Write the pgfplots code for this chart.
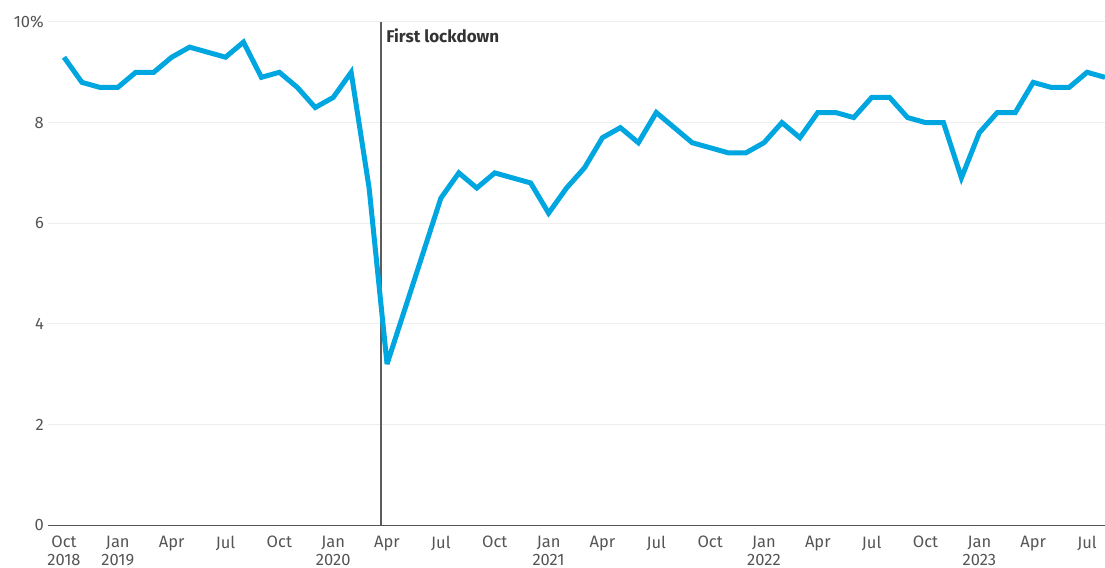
\documentclass[border=0pt]{standalone}
\usepackage{fontspec}
\setmainfont{Fira Sans}
\usepackage{pgfplots}
\pgfplotsset{compat=1.18}
\definecolor{lineblue}{HTML}{00A6E0}
\definecolor{labgray}{HTML}{555555}
\definecolor{gridgray}{HTML}{EEEEEE}
\definecolor{darkgray}{HTML}{333333}
\begin{document}
\begin{tikzpicture}
\begin{axis}[
  scale only axis,
  width=1057bp, height=503bp,
  xmin=-0.89, xmax=58,
  ymin=0, ymax=10,
  axis x line*=bottom,
  axis y line*=left,
  x axis line style={draw=labgray, line width=1bp, -},
  y axis line style={draw=none},
  ymajorgrids,
  grid style={draw=gridgray, line width=1bp},
  major tick length=0pt,
  ytick={0,2,4,6,8,10},
  yticklabels={0,2,4,6,8,10\%},
  xtick={0,3,...,57},
  xticklabels={Oct\\2018,Jan\\2019,Apr,Jul,Oct,Jan\\2020,Apr,Jul,Oct,Jan\\2021,Apr,Jul,Oct,Jan\\2022,Apr,Jul,Oct,Jan\\2023,Apr,Jul},
  xticklabel style={align=center, font=\fontsize{16.5bp}{18bp}\selectfont, text=labgray, anchor=north, inner sep=0pt, yshift=-11bp},
  yticklabel style={font=\fontsize{16.5bp}{18bp}\selectfont, text=labgray, anchor=east, inner sep=0pt, xshift=-4bp},
  /pgf/number format/assume math mode=true,
]
\coordinate (bl) at (rel axis cs:0,0);
\coordinate (tr) at (rel axis cs:1,1);
\addplot[draw=darkgray!80, line width=1.3bp] coordinates {(17.67,0) (17.67,10)};
\addplot[draw=lineblue, line width=5bp, line join=miter, miter limit=3] coordinates {
(0,9.3) (1,8.8) (2,8.7) (3,8.7) (4,9.0) (5,9.0) (6,9.3) (7,9.5) (8,9.4) (9,9.3)
(10,9.6) (11,8.9) (12,9.0) (13,8.7) (14,8.3) (15,8.5) (16,9.0) (17,6.7) (18,3.2) (19,4.3)
(20,5.4) (21,6.5) (22,7.0) (23,6.7) (24,7.0) (25,6.9) (26,6.8) (27,6.2) (28,6.7) (29,7.1)
(30,7.7) (31,7.9) (32,7.6) (33,8.2) (34,7.9) (35,7.6) (36,7.5) (37,7.4) (38,7.4) (39,7.6)
(40,8.0) (41,7.7) (42,8.2) (43,8.2) (44,8.1) (45,8.5) (46,8.5) (47,8.1) (48,8.0) (49,8.0)
(50,6.9) (51,7.8) (52,8.2) (53,8.2) (54,8.8) (55,8.7) (56,8.7) (57,9.0) (58,8.9)};
\node[anchor=west, inner sep=0pt, text=darkgray, font=\fontsize{17bp}{18bp}\selectfont\bfseries] at (axis cs:17.95,9.72) {First lockdown};
\end{axis}
\pgfresetboundingbox
\path ([shift={(-48bp,-43bp)}]bl) rectangle ([shift={(0bp,22bp)}]tr);
\end{tikzpicture}
\end{document}
